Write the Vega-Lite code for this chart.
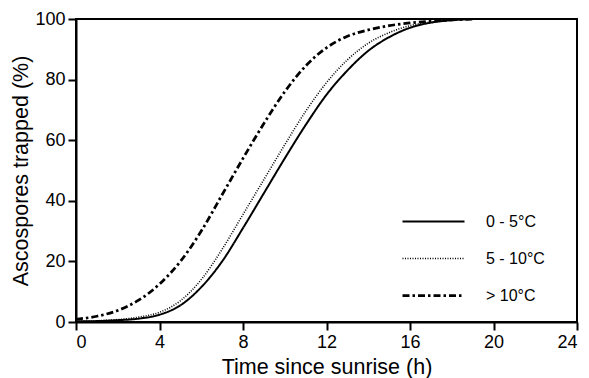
{
  "$schema": "https://vega.github.io/schema/vega-lite/v6.json",
  "width": 501,
  "height": 303,
  "autosize": "none",
  "padding": {"left": 76, "top": 19, "right": 12, "bottom": 56},
  "background": "white",
  "config": {
    "font": "Liberation Sans",
    "view": {"stroke": "black", "strokeWidth": 2},
    "axis": {
      "domainColor": "black", "domainWidth": 2, "tickColor": "black", "tickWidth": 2, "tickSize": 8,
      "labelColor": "black", "labelFontSize": 18, "labelFont": "Liberation Sans", "labelPadding": 3,
      "titleColor": "black", "titleFontSize": 21.5, "titleFontWeight": "normal", "titleFont": "Liberation Sans",
      "grid": false
    }
  },
  "data": {
    "values": [
      {"t": 0, "g": "0 - 5°C", "v": 0.2}, {"t": 1, "g": "0 - 5°C", "v": 0.3}, {"t": 2, "g": "0 - 5°C", "v": 0.6},
      {"t": 3, "g": "0 - 5°C", "v": 1.1}, {"t": 4, "g": "0 - 5°C", "v": 2.4}, {"t": 5, "g": "0 - 5°C", "v": 5.5},
      {"t": 6, "g": "0 - 5°C", "v": 11.5}, {"t": 7, "g": "0 - 5°C", "v": 20}, {"t": 8, "g": "0 - 5°C", "v": 31},
      {"t": 9, "g": "0 - 5°C", "v": 42.5}, {"t": 10, "g": "0 - 5°C", "v": 54}, {"t": 11, "g": "0 - 5°C", "v": 65},
      {"t": 12, "g": "0 - 5°C", "v": 75}, {"t": 13, "g": "0 - 5°C", "v": 83}, {"t": 14, "g": "0 - 5°C", "v": 89.5},
      {"t": 15, "g": "0 - 5°C", "v": 94}, {"t": 16, "g": "0 - 5°C", "v": 97.1}, {"t": 17, "g": "0 - 5°C", "v": 98.8},
      {"t": 18, "g": "0 - 5°C", "v": 99.6}, {"t": 19, "g": "0 - 5°C", "v": 100},

      {"t": 0, "g": "5 - 10°C", "v": 0.2}, {"t": 1, "g": "5 - 10°C", "v": 0.4}, {"t": 2, "g": "5 - 10°C", "v": 0.8},
      {"t": 3, "g": "5 - 10°C", "v": 1.6}, {"t": 4, "g": "5 - 10°C", "v": 3.2}, {"t": 5, "g": "5 - 10°C", "v": 7},
      {"t": 6, "g": "5 - 10°C", "v": 14}, {"t": 7, "g": "5 - 10°C", "v": 24}, {"t": 8, "g": "5 - 10°C", "v": 35.5},
      {"t": 9, "g": "5 - 10°C", "v": 47}, {"t": 10, "g": "5 - 10°C", "v": 58.5}, {"t": 11, "g": "5 - 10°C", "v": 69.5},
      {"t": 12, "g": "5 - 10°C", "v": 79}, {"t": 13, "g": "5 - 10°C", "v": 86.5}, {"t": 14, "g": "5 - 10°C", "v": 92},
      {"t": 15, "g": "5 - 10°C", "v": 95.5}, {"t": 16, "g": "5 - 10°C", "v": 97.8}, {"t": 17, "g": "5 - 10°C", "v": 99},
      {"t": 18, "g": "5 - 10°C", "v": 99.7}, {"t": 19, "g": "5 - 10°C", "v": 100},

      {"t": 0, "g": "> 10°C", "v": 0.9}, {"t": 1, "g": "> 10°C", "v": 1.9}, {"t": 2, "g": "> 10°C", "v": 3.8},
      {"t": 3, "g": "> 10°C", "v": 7.2}, {"t": 4, "g": "> 10°C", "v": 12.5}, {"t": 5, "g": "> 10°C", "v": 20},
      {"t": 6, "g": "> 10°C", "v": 30}, {"t": 7, "g": "> 10°C", "v": 42}, {"t": 8, "g": "> 10°C", "v": 54},
      {"t": 9, "g": "> 10°C", "v": 65.5}, {"t": 10, "g": "> 10°C", "v": 76}, {"t": 11, "g": "> 10°C", "v": 84.5},
      {"t": 12, "g": "> 10°C", "v": 90.5}, {"t": 13, "g": "> 10°C", "v": 94.3}, {"t": 14, "g": "> 10°C", "v": 96.4},
      {"t": 15, "g": "> 10°C", "v": 97.8}, {"t": 16, "g": "> 10°C", "v": 98.7}, {"t": 17, "g": "> 10°C", "v": 99.3},
      {"t": 18, "g": "> 10°C", "v": 99.7}, {"t": 19, "g": "> 10°C", "v": 100}
    ]
  },
  "mark": {"type": "line", "interpolate": "monotone", "color": "black", "clip": true},
  "encoding": {
    "x": {
      "field": "t", "type": "quantitative",
      "scale": {"domain": [0, 24], "nice": false},
      "axis": {"values": [0, 4, 8, 12, 16, 20, 24], "title": "Time since sunrise (h)", "titlePadding": 5}
    },
    "y": {
      "field": "v", "type": "quantitative",
      "scale": {"domain": [0, 100], "nice": false},
      "axis": {"values": [0, 20, 40, 60, 80, 100], "title": "Ascospores trapped (%)", "titlePadding": 2}
    },
    "strokeDash": {
      "field": "g", "type": "nominal",
      "scale": {"domain": ["0 - 5°C", "5 - 10°C", "> 10°C"], "range": [[1, 0], [1, 1.5], [7, 3, 2.5, 3]]},
      "legend": {
        "title": null, "orient": "none", "legendX": 325, "legendY": 184,
        "symbolType": "stroke", "symbolSize": 3844, "symbolStrokeColor": "black",
        "labelFontSize": 16, "labelColor": "black", "labelFont": "Liberation Sans", "labelOffset": 20,
        "clipHeight": 37, "rowPadding": 0
      }
    },
    "strokeWidth": {
      "field": "g", "type": "nominal",
      "scale": {"type": "ordinal", "domain": ["0 - 5°C", "5 - 10°C", "> 10°C"], "range": [2, 1.6, 2.75]}
    }
  }
}
